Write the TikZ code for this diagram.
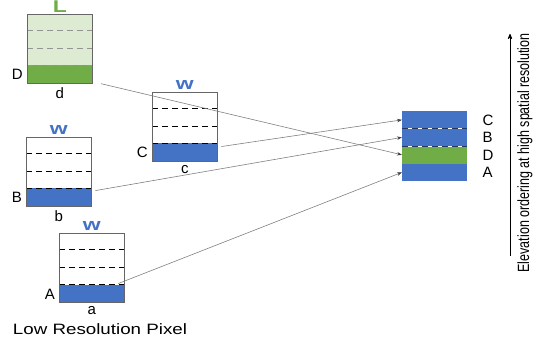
\documentclass[tikz,border=0pt]{standalone}
\usepackage{fontspec}
\setmainfont{Liberation Sans}
\usetikzlibrary{arrows,arrows.meta}
\usetikzlibrary{positioning}
\definecolor{lblue}{HTML}{4472C4}
\definecolor{dblue}{HTML}{203864}
\definecolor{lgreen}{HTML}{70AD47}
\definecolor{pgreen}{HTML}{DDEBD3}
\definecolor{boxgray}{HTML}{666666}
\definecolor{linegray}{HTML}{808080}

\begin{document}
\begin{tikzpicture}[x=1pt,y=-1pt,>=stealth',
    pixel box/.style={draw=boxgray,line width=0.8pt,minimum width=65pt,minimum height=69pt,inner sep=0pt,anchor=north west},
    low layer/.style={minimum width=65pt,minimum height=17.5pt,inner sep=0pt,anchor=south west},
    high layer/.style={minimum width=65pt,minimum height=17.5pt,inner sep=0pt,anchor=north west},
    dash line/.style={dashed,dash pattern=on 6pt off 4pt,line width=0.8pt},
    letter/.style={font=\fontsize{15}{17}\selectfont,inner sep=1pt},
    tag/.style={font=\fontsize{17}{19}\bfseries\selectfont,inner sep=1pt,xscale=1.35},
    link/.style={-{Stealth[length=5pt,width=3.5pt,color=black!75]},draw=linegray,line width=0.6pt,shorten <=4pt}]

  % low resolution pixels
  \fill[pgreen] (27,13) rectangle (92,82);
  \node[low layer,fill=lgreen] (d) at (27,82) {};
  \node[low layer,fill=lblue] (c) at (152,160) {};
  \node[low layer,fill=lblue] (b) at (26,205) {};
  \node[low layer,fill=lblue] (a) at (59,302) {};

  \foreach \y in {17,35,52} {
    \draw[dash line,boxgray!70] (27,{13+\y}) -- (92,{13+\y});
    \draw[dash line] (152,{91+\y}) -- (217,{91+\y});
    \draw[dash line] (26,{136+\y}) -- (91,{136+\y});
    \draw[dash line] (59,{232+\y}) -- (124,{232+\y});
  }

  \node[pixel box] (boxd) at (27,13) {};
  \node[pixel box] (boxc) at (152,91) {};
  \node[pixel box] (boxb) at (26,136) {};
  \node[pixel box] (boxa) at (59,232) {};

  \node[tag,text=lgreen,above=0pt of boxd] (ld) {L};
  \node[tag,text=lblue,above=1pt of boxc] (wc) {w};
  \node[tag,text=lblue,above=1pt of boxb] (wb) {w};
  \node[tag,text=lblue,above=1pt of boxa] (wa) {w};

  \node[letter,left=3pt of d] (nd) {D};
  \node[letter,left=3pt of c] (nc) {C};
  \node[letter,left=3pt of b] (nb) {B};
  \node[letter,left=3pt of a] (na) {A};

  \node[letter,below=3pt of boxd] (sd) {d};
  \node[letter,below=3pt of boxc] (sc) {c};
  \node[letter,below=3pt of boxb] (sb) {b};
  \node[letter,below=3pt of boxa] (sa) {a};

  \node[letter,xscale=1.25] (lrp) at (100,328) {Low Resolution Pixel};

  % high resolution ordering
  \node[high layer,fill=lblue] (hc) at (402,110) {};
  \node[high layer,fill=lblue] (hb) at (402,127.5) {};
  \node[high layer,fill=lgreen] (hd) at (402,145) {};
  \node[high layer,fill=lblue] (ha) at (402,162.5) {};
  \draw[white,line width=0.8pt] (hc.south west) -- (hc.south east);
  \draw[white,line width=0.8pt] (hb.south west) -- (hb.south east);
  \draw[dash line,dblue] (hc.south west) -- (hc.south east);
  \draw[dash line,dblue] (hb.south west) -- (hb.south east);

  \node[letter,right=14pt of hc] (rc) {C};
  \node[letter,right=14pt of hb] (rb) {B};
  \node[letter,right=14pt of hd] (rd) {D};
  \node[letter,right=14pt of ha] (ra) {A};

  \path (d) edge[link,shorten <=9pt] (hd.west)
        (c) edge[link] (hc.west)
        (b) edge[link] (hb.west)
        (a) edge[link] (ha.west);

  % elevation axis
  \coordinate (axbot) at (510,255);
  \coordinate (axtop) at (510,33);
  \draw[->,line width=0.8pt] (axbot) -- (axtop);
  \node[font=\fontsize{12.5}{14}\selectfont,rotate=90,yscale=1.3,inner sep=0pt] (axlab) at (525,152) {Elevation ordering at high spatial resolution};

  \useasboundingbox (0,0) rectangle (533,345);
\end{tikzpicture}
\end{document}
